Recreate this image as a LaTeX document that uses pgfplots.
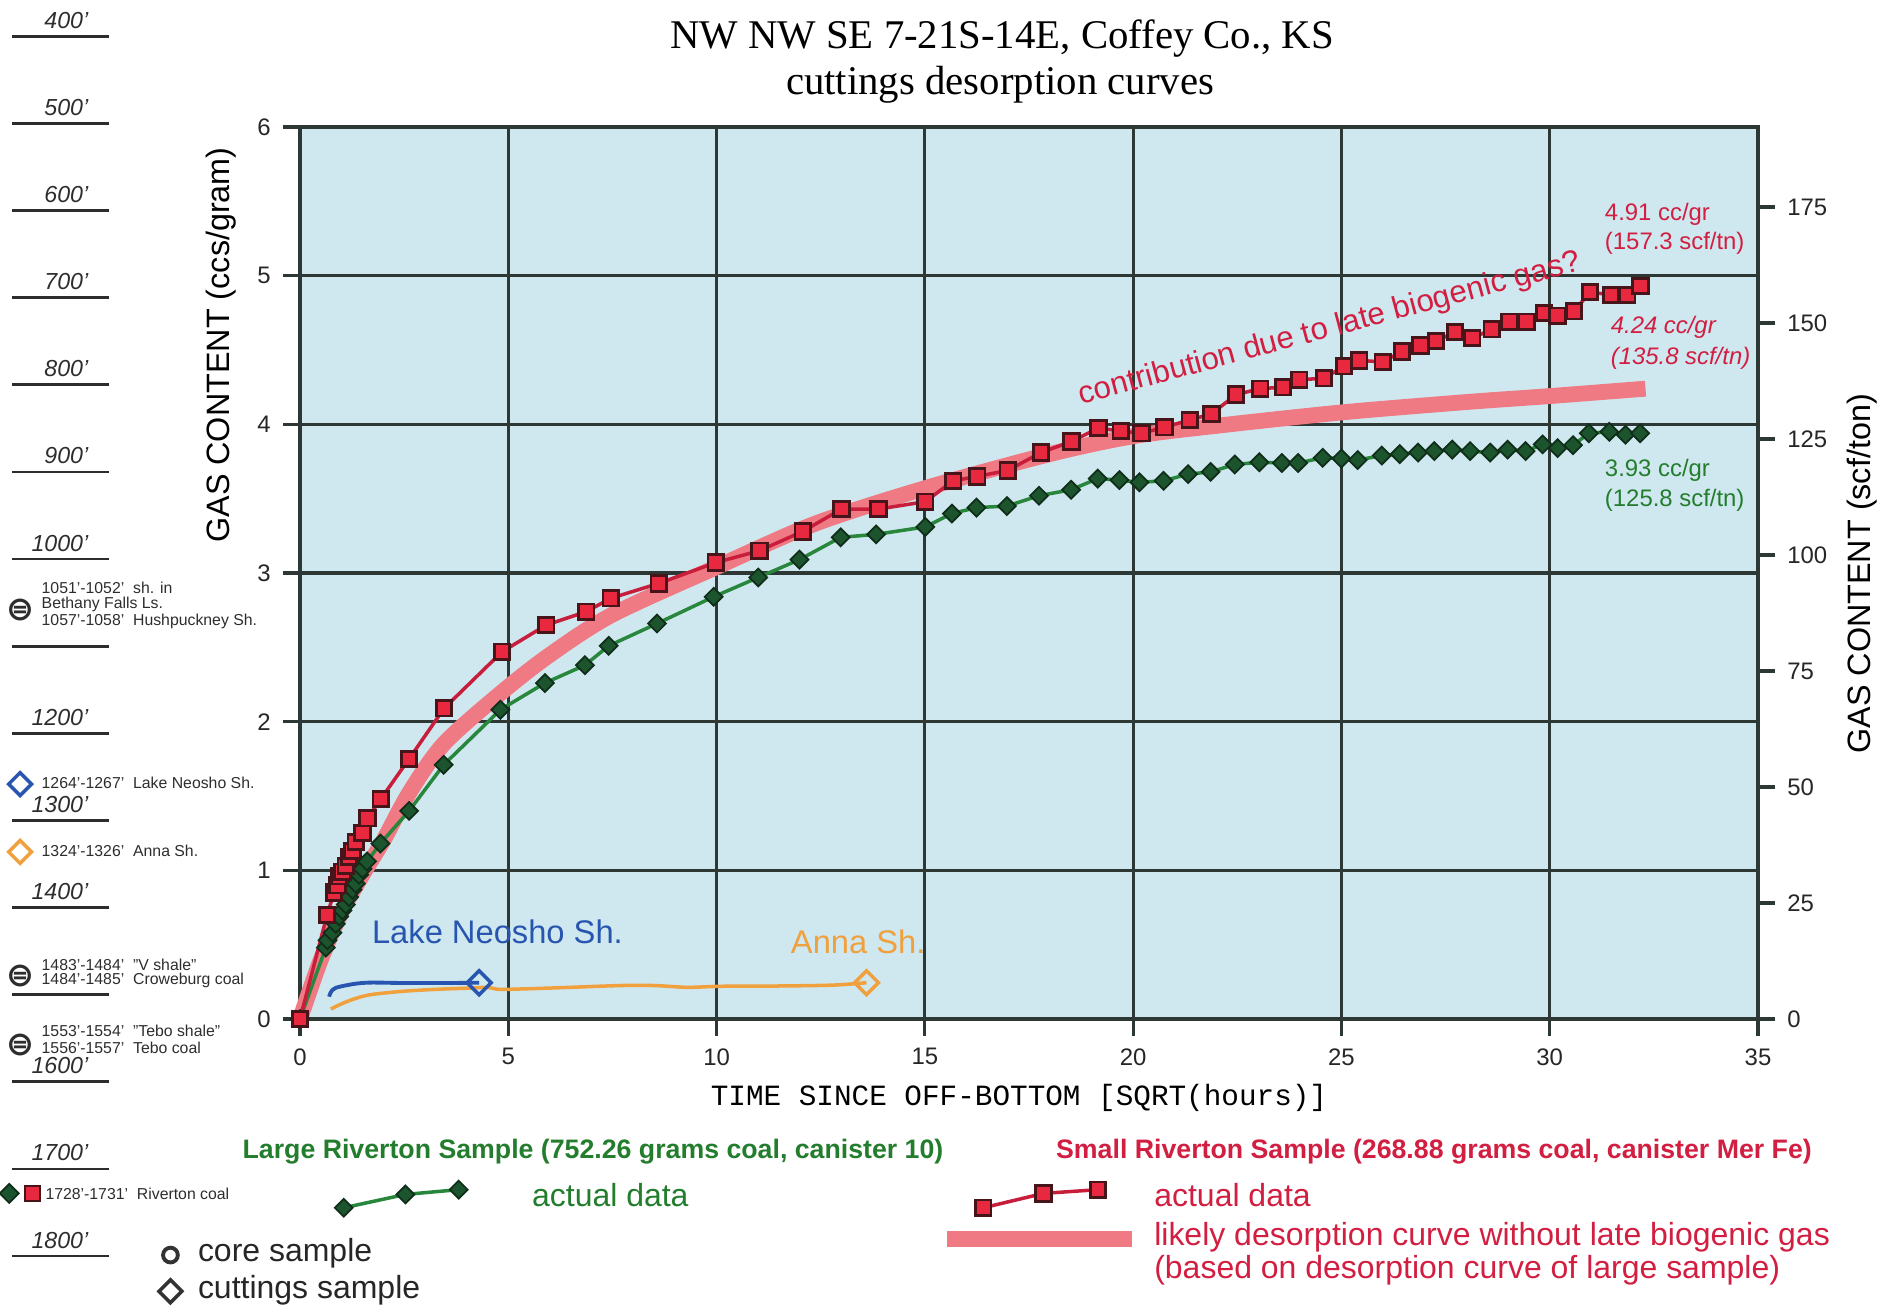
\documentclass[border=0pt]{standalone}
\usepackage{fontspec}
\setmainfont{Liberation Sans}
\newfontfamily\seriff{Liberation Serif}
\newfontfamily\monof{Liberation Mono}
\newfontfamily\dejavu{DejaVu Sans}
\usepackage{pgfplots}
\pgfplotsset{compat=1.18}

\definecolor{plotbg}{RGB}{207,232,240}
\definecolor{gridc}{RGB}{45,55,52}
\definecolor{redline}{RGB}{200,30,60}
\definecolor{redfill}{RGB}{232,40,62}
\definecolor{rededge}{RGB}{70,20,25}
\definecolor{greenline}{RGB}{40,135,60}
\definecolor{greenfill}{RGB}{28,85,45}
\definecolor{greenedge}{RGB}{15,45,25}
\definecolor{pinkband}{RGB}{240,122,132}
\definecolor{neosho}{RGB}{40,85,175}
\definecolor{anna}{RGB}{240,160,60}
\definecolor{redtext}{RGB}{210,30,65}
\definecolor{greentext}{RGB}{35,125,45}
\definecolor{depthtext}{RGB}{45,45,45}

\newcommand\fs[1]{\fontsize{#1}{#1}\selectfont}

\begin{document}
\begin{tikzpicture}[x=1cm,y=1cm]
\useasboundingbox (0,0) rectangle (18.98,13.07);

% main axis, cc/gram
\begin{axis}[
  at={(3.00cm,2.88cm)}, anchor=south west,
  scale only axis, width=14.58cm, height=8.92cm,
  xmin=0, xmax=35, ymin=0, ymax=6,
  axis background/.style={fill=plotbg},
  xtick={0,5,...,35}, ytick={0,1,...,6},
  grid=major, major grid style={gridc, line width=0.9pt},
  axis line style={gridc, line width=1.3pt},
  tick align=outside, tick pos=left, major tick length=1.7mm,
  tick style={gridc, line width=0.9pt},
  ticklabel style={font=\fs{6.8}, text=black!85},
  /pgf/number format/assume math mode=true,
  clip=false,
]
% likely desorption curve
\addplot[pinkband, line width=4.5pt, smooth, line cap=butt] coordinates {
(0,0)(0.5,0.4)(1,0.72)(1.5,0.97)(2,1.2)(2.62,1.52)(3.45,1.85)(4.81,2.19)
(6,2.45)(7.5,2.72)(10,3.04)(12.35,3.33)(15,3.57)(18,3.8)(20,3.92)(22,3.99)
(25,4.08)(28,4.15)(30,4.19)(32.3,4.24)};

% Lake Neosho Sh.
\addplot[neosho, line width=1.1pt, smooth] coordinates {
(0.70,0.15)(0.74,0.18)(0.86,0.21)(1.3,0.236)(1.7,0.245)(2.5,0.242)(3.5,0.242)(4.3,0.244)};
\addplot[neosho, only marks, mark=square, mark size=2.4pt,
  mark options={rotate=45, line width=1pt}] coordinates {(4.3,0.244)};

% Anna Sh.
\addplot[anna, line width=1pt, smooth] coordinates {
(0.74,0.067)(0.98,0.10)(1.3,0.135)(1.7,0.164)(2.5,0.187)(3.3,0.20)(4.18,0.209)
(4.5,0.213)(4.74,0.20)(5.06,0.20)(6.1,0.209)(7.7,0.225)(8.5,0.225)(9.3,0.213)
(10.1,0.22)(11.5,0.222)(12.8,0.228)(13.6,0.244)};
\addplot[anna, only marks, mark=square, mark size=2.4pt,
  mark options={rotate=45, line width=1pt}] coordinates {(13.6,0.244)};

% Large Riverton sample
\addplot[greenline, line width=1pt, mark=square*, mark size=1.8pt,
  mark options={rotate=45, fill=greenfill, draw=greenedge, line width=0.5pt}] coordinates {
(0,0)(0.62,0.48)(0.66,0.53)(0.78,0.58)(0.86,0.64)(0.94,0.69)(1.02,0.73)(1.10,0.77)
(1.18,0.82)(1.26,0.87)(1.34,0.91)(1.42,0.97)(1.50,1.01)(1.61,1.06)(1.93,1.18)
(2.62,1.40)(3.45,1.71)(4.81,2.08)(5.88,2.26)(6.84,2.38)(7.41,2.51)(8.57,2.66)
(9.93,2.84)(11.0,2.97)(11.99,3.09)(12.98,3.24)(13.83,3.26)(15.01,3.31)(15.65,3.40)
(16.24,3.44)(16.97,3.45)(17.74,3.52)(18.51,3.56)(19.15,3.635)(19.67,3.625)
(20.15,3.61)(20.73,3.62)(21.32,3.665)(21.86,3.68)(22.44,3.73)(23.03,3.745)
(23.57,3.74)(23.96,3.74)(24.55,3.775)(25.0,3.77)(25.39,3.76)(25.97,3.79)
(26.40,3.80)(26.84,3.81)(27.23,3.82)(27.66,3.83)(28.09,3.82)(28.57,3.81)
(28.99,3.83)(29.42,3.82)(29.83,3.865)(30.19,3.84)(30.56,3.86)(30.94,3.94)
(31.43,3.95)(31.82,3.93)(32.17,3.94)};

% Small Riverton sample
\addplot[redline, line width=1pt, mark=square*, mark size=2.2pt,
  mark options={fill=redfill, draw=rededge, line width=0.8pt}] coordinates {
(0,0)(0.65,0.70)(0.82,0.85)(0.90,0.90)(0.94,0.96)(1.02,0.99)(1.10,1.03)(1.18,1.09)
(1.26,1.13)(1.34,1.19)(1.50,1.25)(1.62,1.35)(1.94,1.48)(2.62,1.75)(3.46,2.09)
(4.85,2.47)(5.91,2.65)(6.87,2.74)(7.46,2.83)(8.61,2.93)(9.98,3.07)(11.03,3.15)
(12.07,3.28)(13.0,3.43)(13.89,3.43)(15.01,3.48)(15.68,3.62)(16.26,3.65)(16.99,3.69)
(17.79,3.81)(18.52,3.885)(19.17,3.975)(19.7,3.955)(20.2,3.94)(20.75,3.98)
(21.36,4.03)(21.88,4.07)(22.47,4.20)(23.05,4.24)(23.6,4.25)(23.99,4.30)
(24.58,4.31)(25.06,4.39)(25.43,4.43)(25.99,4.42)(26.45,4.49)(26.9,4.53)
(27.27,4.56)(27.73,4.62)(28.14,4.58)(28.61,4.64)(29.03,4.69)(29.44,4.69)
(29.87,4.75)(30.19,4.73)(30.58,4.76)(30.97,4.89)(31.47,4.87)(31.86,4.87)(32.18,4.93)};

% legend samples below the axis
\addplot[greenline, line width=1pt, mark=square*, mark size=1.8pt,
  mark options={rotate=45, fill=greenfill, draw=greenedge, line width=0.5pt}]
  coordinates {(1.05,-1.27)(2.53,-1.18)(3.81,-1.148)};
\addplot[redline, line width=1pt, mark=square*, mark size=2.2pt,
  mark options={fill=redfill, draw=rededge, line width=0.8pt}]
  coordinates {(16.40,-1.27)(17.85,-1.173)(19.16,-1.148)};
\addplot[pinkband, line width=4.6pt, line cap=butt] coordinates {(15.52,-1.482)(19.97,-1.482)};
\addplot[black!80, only marks, mark=*, mark size=2.1pt, mark options={fill=white, line width=1.1pt}]
  coordinates {(-3.11,-1.588)};
\addplot[black!80, only marks, mark=square, mark size=2.3pt, mark options={rotate=45, line width=1pt}]
  coordinates {(-3.11,-1.832)};

% depth column symbols
\addplot[neosho, only marks, mark=square, mark size=2.3pt, mark options={rotate=45, line width=1pt}]
  coordinates {(-6.72,1.58)};
\addplot[anna, only marks, mark=square, mark size=2.3pt, mark options={rotate=45, line width=1pt}]
  coordinates {(-6.72,1.124)};
\addplot[only marks, mark=square*, mark size=1.9pt,
  mark options={rotate=45, fill=greenfill, draw=greenedge, line width=0.5pt}]
  coordinates {(-6.98,-1.173)};
\addplot[only marks, mark=square*, mark size=2.1pt,
  mark options={fill=redfill, draw=rededge, line width=0.6pt}]
  coordinates {(-6.42,-1.173)};

% in-plot labels
\node[neosho, font=\fs{9.3}] at (axis cs:4.74,0.586) {Lake Neosho Sh.};
\node[anna, font=\fs{9.3}] at (axis cs:13.40,0.52) {Anna Sh.};
\node[redtext, font=\fs{8.9}, rotate=15] at (axis cs:24.72,4.64) {contribution due to late biogenic gas?};
\node[redtext, font=\fs{6.8}, anchor=west, inner sep=0pt] at (axis cs:31.31,5.415) {4.91 cc/gr};
\node[redtext, font=\fs{6.8}, anchor=west, inner sep=0pt] at (axis cs:31.31,5.22) {(157.3 scf/tn)};
\node[redtext, font=\fs{6.8}\itshape, anchor=west, inner sep=0pt] at (axis cs:31.45,4.65) {4.24 cc/gr};
\node[redtext, font=\fs{6.8}\itshape, anchor=west, inner sep=0pt] at (axis cs:31.45,4.446) {(135.8 scf/tn)};
\node[greentext, font=\fs{6.8}, anchor=west, inner sep=0pt] at (axis cs:31.31,3.689) {3.93 cc/gr};
\node[greentext, font=\fs{6.8}, anchor=west, inner sep=0pt] at (axis cs:31.31,3.49) {(125.8 scf/tn)};
\end{axis}

% right axis, scf/ton
\begin{axis}[
  at={(3.00cm,2.88cm)}, anchor=south west,
  scale only axis, width=14.58cm, height=8.92cm,
  xmin=0, xmax=35, ymin=0, ymax=192.24,
  axis y line*=right, axis x line=none,
  ytick={0,25,...,175},
  axis line style={gridc, line width=1.3pt, -},
  tick align=outside, major tick length=1.7mm,
  tick style={gridc, line width=0.9pt},
  ticklabel style={font=\fs{6.8}, text=black!85},
  /pgf/number format/assume math mode=true,
]
\addplot[draw=none] coordinates {(0,0)(35,192)};
\end{axis}

% titles and axis labels
\node[font=\seriff\fs{11.6}] at (10.02,12.683) {NW NW SE 7-21S-14E, Coffey Co., KS};
\node[font=\seriff\fs{11.6}] at (10.0,12.223) {cuttings desorption curves};
\node[font=\fs{9.2}, rotate=90] at (2.215,9.62) {GAS CONTENT (ccs/gram)};
\node[font=\fs{9.2}, rotate=90] at (18.62,7.332) {GAS CONTENT (scf/ton)};
\node[font=\monof\fs{8.35}] at (10.19,2.09) {TIME SINCE OFF-BOTTOM [SQRT(hours)]};

% depth column
\foreach \d in {400,500,...,1800}{
  \pgfmathsetmacro\yy{12.707-(\d-400)*0.008716}
  \draw[depthtext, line width=0.8pt] (0.121,\yy) -- (1.089,\yy);
}
\foreach \d in {400,500,600,700,800,900,1000,1200,1300,1400,1600,1700,1800}{
  \pgfmathsetmacro\yy{12.707-(\d-400)*0.008716+0.08}
  \node[anchor=base east, font=\fs{6.6}\itshape, depthtext, inner sep=0pt] at (0.89,\yy) {\d'};
}
\begin{scope}[every node/.style={anchor=west, font=\fs{4.5}, depthtext, inner sep=0pt}]
\node at (0.41,7.187) {1051'-1052'\ \ sh. in};
\node at (0.41,7.030) {Bethany Falls Ls.};
\node at (0.41,6.860) {1057'-1058'\ \ Hushpuckney Sh.};
\node at (0.41,5.238) {1264'-1267'\ \ Lake Neosho Sh.};
\node at (0.41,4.560) {1324'-1326'\ \ Anna Sh.};
\node at (0.41,3.422) {1483'-1484'\ \ "V shale"};
\node at (0.41,3.265) {1484'-1485'\ \ Croweburg coal};
\node at (0.41,2.757) {1553'-1554'\ \ "Tebo shale"};
\node at (0.41,2.587) {1556'-1557'\ \ Tebo coal};
\node at (0.448,1.134) {1728'-1731'\ \ Riverton coal};
\end{scope}
\foreach \yy in {6.969,3.313,2.620}{
  \node[font=\dejavu\bfseries\fs{9.5}, depthtext, inner sep=0pt] at (0.206,\yy) {⊜};
}

% bottom legend text
\node[greentext, font=\bfseries\fs{7.6}] at (5.93,1.558) {Large Riverton Sample (752.26 grams coal, canister 10)};
\node[redtext, font=\bfseries\fs{7.6}] at (14.34,1.558) {Small Riverton Sample (268.88 grams coal, canister Mer Fe)};
\node[greentext, font=\fs{9.1}, anchor=west, inner sep=0pt] at (5.314,1.122) {actual data};
\node[redtext, font=\fs{9.1}, anchor=west, inner sep=0pt] at (11.536,1.122) {actual data};
\node[redtext, font=\fs{9.1}, anchor=west, inner sep=0pt] at (11.536,0.699) {likely desorption curve without late biogenic gas};
\node[redtext, font=\fs{9.1}, anchor=west, inner sep=0pt] at (11.536,0.372) {(based on desorption curve of large sample)};
\node[font=\fs{9.1}, anchor=west, inner sep=0pt, black!85] at (1.973,0.541) {core sample};
\node[font=\fs{9.1}, anchor=west, inner sep=0pt, black!85] at (1.973,0.166) {cuttings sample};
\end{tikzpicture}
\end{document}
